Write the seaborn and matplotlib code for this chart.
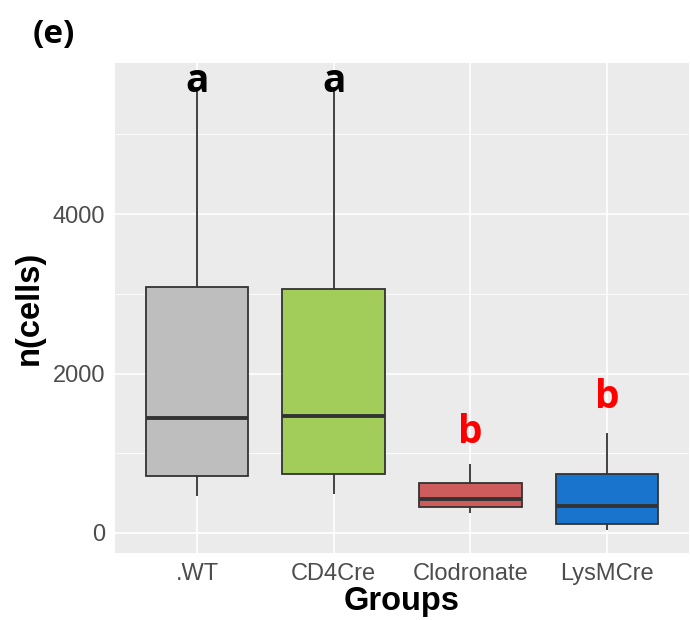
import numpy as np
import pandas as pd
import matplotlib
matplotlib.use("Agg")
import matplotlib.pyplot as plt
from matplotlib.ticker import MultipleLocator
import seaborn as sns

# five-number summaries (min, q1, median, q3, max)
groups = [".WT", "CD4Cre", "Clodronate", "LysMCre"]
wt = [459, 709, 1441, 3086, 5600]
cd4cre = [489, 739, 1474, 3058, 5600]
clodronate = [251, 326, 426, 630, 865]
lysmcre = [33, 117, 333, 739, 1253]

fills = ["#BEBEBE", "#A2CD5A", "#CD5C5C", "#1874CD"]

letters = ["a", "a", "b", "b"]
letter_y = [5665, 5665, 1257, 1696]
letter_colors = ["black", "black", "#FF0000", "#FF0000"]

df = pd.DataFrame({
    "Groups": np.repeat(groups, 5),
    "n": wt + cd4cre + clodronate + lysmcre,
})

sns.set_theme(style="darkgrid")
plt.rcParams["font.family"] = ["Liberation Sans", "DejaVu Sans"]

fig = plt.figure(figsize=(6.9, 6.2), dpi=100)
ax = fig.add_axes([115 / 690, 67 / 620, 574 / 690, 490 / 620])
ax.set_facecolor("#EBEBEB")

sns.boxplot(data=df, x="Groups", y="n", hue="Groups", order=groups,
            hue_order=groups, palette=fills, saturation=1, legend=False,
            width=0.75, linecolor="#333333", linewidth=1.3, whis=1.5,
            showcaps=False, fliersize=0, medianprops={"linewidth": 2.8},
            ax=ax)

for i, (lab, yy, col) in enumerate(zip(letters, letter_y, letter_colors)):
    ax.text(i, yy, lab, ha="center", va="center", fontsize=28,
            fontweight="bold", color=col, family="Open Sans")

ax.set_xlim(-0.6, 3.6)
ax.set_ylim(-251, 5897)
ax.yaxis.set_major_locator(MultipleLocator(2000))
ax.yaxis.set_minor_locator(MultipleLocator(1000))
ax.grid(which="major", color="white", linewidth=1.2)
ax.grid(which="minor", axis="y", color="white", linewidth=0.6)
ax.set_axisbelow(True)
for s in ax.spines.values():
    s.set_visible(False)

ax.tick_params(axis="both", which="major", length=5, width=0.9,
               color="#333333", labelcolor="#4D4D4D", labelsize=17, pad=2)
ax.tick_params(axis="y", which="minor", length=0)

ax.set_xlabel("Groups", fontsize=23.5, fontweight="bold", color="black",
              labelpad=1)
ax.set_ylabel("n(cells)", fontsize=23.5, fontweight="bold", color="black",
              labelpad=6)

fig.text(54 / 690, 1 - 34 / 620, "(e)", ha="center", va="center",
         fontsize=24, fontweight="bold", color="black", family="Open Sans")

fig.savefig("out.png", dpi=100)
